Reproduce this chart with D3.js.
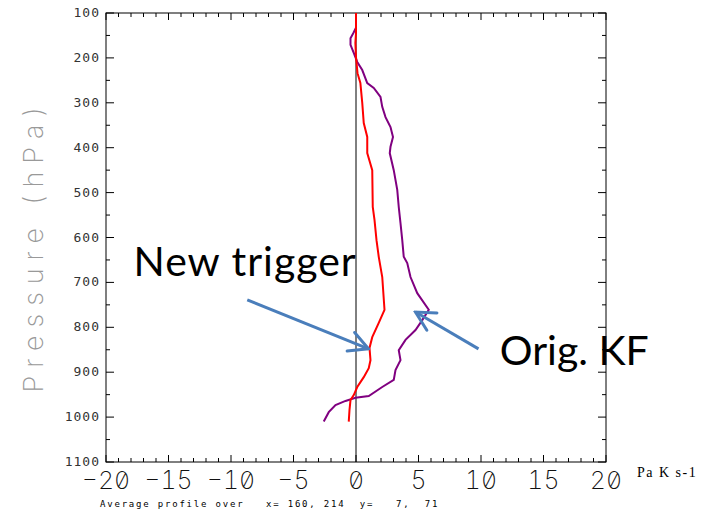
<!DOCTYPE html>
<html>
<head>
<meta charset="utf-8">
<script src="https://cdn.jsdelivr.net/npm/d3@7"></script>
<style>
  body { margin: 0; background: #fff; }
  svg { display: block; }
</style>
</head>
<body>
<div id="plot"></div>
<script>
// pressure levels (hPa) and average values (Pa K s-1)
var newPres = [100, 145, 167, 198, 234, 256, 300, 345, 376, 412, 450, 532, 561, 606, 643, 688, 761, 790, 822, 846, 873, 891, 911, 933, 951, 962, 984, 1010];
var newVal  = [0.0, 0.0, -0.05, 0.0, 0.12, 0.35, 0.5, 0.62, 0.9, 0.9, 1.3, 1.34, 1.48, 1.64, 1.82, 2.1, 2.28, 1.82, 1.3, 1.08, 1.16, 1.02, 0.62, 0.1, -0.18, -0.44, -0.52, -0.58];

var origPres = [100, 133, 145, 156, 171, 189, 209, 227, 256, 267, 287, 309, 332, 354, 376, 398, 412, 450, 494, 532, 568, 606, 643, 657, 688, 724, 761, 784, 806, 828, 851, 873, 895, 917, 933, 953, 957, 964, 973, 989, 1010];
var origVal  = [0.0, 0.0, -0.22, -0.44, -0.44, -0.18, 0.1, 0.5, 0.9, 1.42, 1.96, 2.1, 2.36, 2.76, 2.96, 2.76, 2.7, 3.02, 3.3, 3.42, 3.56, 3.7, 3.82, 4.1, 4.36, 4.9, 5.82, 5.3, 4.76, 3.96, 3.42, 3.56, 3.16, 3.02, 2.1, 1.02, -0.04, -0.84, -1.64, -2.18, -2.58];

var xTicks = [-20, -15, -10, -5, 0, 5, 10, 15, 20];
var yTicks = [100, 200, 300, 400, 500, 600, 700, 800, 900, 1000, 1100];

var width = 710;
var height = 511;

var x = d3.scaleLinear().domain([-20, 20]).range([106, 606]);
var y = d3.scaleLinear().domain([100, 1100]).range([13, 462]);

var svg = d3.select("#plot").
append("svg").
attr("width", width).
attr("height", height);

// open arrow head
svg.append("defs").
append("marker").
attr("id", "head").
attr("markerUnits", "userSpaceOnUse").
attr("viewBox", "-22 -12 24 24").
attr("refX", 0).
attr("refY", 0).
attr("markerWidth", 24).
attr("markerHeight", 24).
attr("orient", "auto").
append("path").
attr("d", "M-19,-10 L0,0 L-19,10").
attr("fill", "none").
attr("stroke", "#4a7ebb").
attr("stroke-width", 3).
attr("stroke-linecap", "round");

// frame
svg.append("rect").
attr("x", x(-20)).
attr("y", y(100)).
attr("width", x(20) - x(-20)).
attr("height", y(1100) - y(100)).
attr("fill", "none").
attr("stroke", "#000").
attr("stroke-width", 1);

// x ticks, every unit, longer every 5
var xMinor = d3.range(-20, 21, 1);
var tickLen = function (d) {return d % 5 === 0 ? 7 : 4;};

svg.append("g").selectAll("line").
data(xMinor).
enter().
append("line").
attr("x1", function (d) {return x(d);}).
attr("x2", function (d) {return x(d);}).
attr("y1", y(1100)).
attr("y2", function (d) {return y(1100) - tickLen(d);}).
attr("stroke", "#000");

svg.append("g").selectAll("line").
data(xMinor).
enter().
append("line").
attr("x1", function (d) {return x(d);}).
attr("x2", function (d) {return x(d);}).
attr("y1", y(100)).
attr("y2", function (d) {return y(100) + tickLen(d);}).
attr("stroke", "#000");

// y ticks every 50 hPa, longer every 100
var yMinor = d3.range(100, 1101, 50);
var yLen = function (d) {return d % 100 === 0 ? 8 : 4;};

svg.append("g").selectAll("line").
data(yMinor).
enter().
append("line").
attr("x1", x(-20)).
attr("x2", function (d) {return x(-20) + yLen(d);}).
attr("y1", function (d) {return y(d);}).
attr("y2", function (d) {return y(d);}).
attr("stroke", "#000");

svg.append("g").selectAll("line").
data(yMinor).
enter().
append("line").
attr("x1", x(20)).
attr("x2", function (d) {return x(20) - yLen(d);}).
attr("y1", function (d) {return y(d);}).
attr("y2", function (d) {return y(d);}).
attr("stroke", "#000");

// tick labels
svg.append("g").selectAll("text").
data(yTicks).
enter().
append("text").
attr("x", 100).
attr("y", function (d) {return y(d) + 4;}).
attr("text-anchor", "end").
attr("font-family", "DejaVu Sans Mono").
attr("font-size", 13).
attr("letter-spacing", 1).
attr("fill", "#333").
text(function (d) {return d;});

svg.append("g").selectAll("text").
data(xTicks).
enter().
append("text").
attr("x", function (d) {return x(d);}).
attr("y", 489).
attr("text-anchor", "middle").
attr("font-family", "Inter").
attr("font-weight", 200).
attr("font-size", 25).
style("font-feature-settings", "'zero' 1, 'tnum' 1").
attr("fill", "#111").
text(function (d) {return d < 0 ? "\u2212" + Math.abs(d) : d;});

// axis titles
svg.append("text").
attr("transform", "translate(43,246) rotate(-90)").
attr("text-anchor", "middle").
attr("font-family", "Inter").
attr("font-weight", 200).
attr("font-size", 27).
attr("letter-spacing", 8).
attr("fill", "#999").
text("Pressure (hPa)");

svg.append("text").
attr("x", 637).
attr("y", 477).
attr("font-family", "Liberation Serif").
attr("font-size", 14).
attr("letter-spacing", 1.5).
attr("fill", "#000").
text("Pa K s-1");

svg.append("text").
attr("x", 100).
attr("y", 507).
attr("font-family", "DejaVu Sans Mono").
attr("font-size", 9).
attr("letter-spacing", 1.8).
attr("fill", "#000").
attr("xml:space", "preserve").
style("white-space", "pre").
text("Average profile over   x= 160, 214  y=   7,  71");

// zero line
svg.append("line").
attr("x1", x(0)).
attr("x2", x(0)).
attr("y1", y(100)).
attr("y2", y(1100)).
attr("stroke", "#000").
attr("stroke-width", 1);

// profiles
var line = d3.line().
x(function (d) {return x(d[1]);}).
y(function (d) {return y(d[0]);});

svg.append("path").
datum(d3.zip(origPres, origVal)).
attr("d", line).
attr("fill", "none").
attr("stroke", "#800080").
attr("stroke-width", 2);

svg.append("path").
datum(d3.zip(newPres, newVal)).
attr("d", line).
attr("fill", "none").
attr("stroke", "#ff0000").
attr("stroke-width", 2);

// annotations
var notes = [
{ label: "New trigger", v: -17.8, p: 686, spacing: 1, from: [-8.7, 739], to: [1.0, 848] },
{ label: "Orig. KF", v: 11.5, p: 884, spacing: 0, from: [9.8, 848], to: [4.76, 766] }];

svg.append("g").selectAll("text").
data(notes).
enter().
append("text").
attr("x", function (d) {return x(d.v);}).
attr("y", function (d) {return y(d.p);}).
attr("font-family", "Lato").
attr("font-size", 41).
attr("letter-spacing", function (d) {return d.spacing;}).
attr("fill", "#000").
text(function (d) {return d.label;});

svg.append("g").selectAll("line").
data(notes).
enter().
append("line").
attr("x1", function (d) {return x(d.from[0]);}).
attr("y1", function (d) {return y(d.from[1]);}).
attr("x2", function (d) {return x(d.to[0]);}).
attr("y2", function (d) {return y(d.to[1]);}).
attr("stroke", "#4a7ebb").
attr("stroke-width", 3).
attr("marker-end", "url(#head)");
</script>
</body>
</html>
